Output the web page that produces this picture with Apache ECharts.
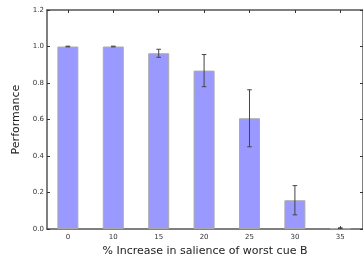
<!DOCTYPE html>
<html><head><meta charset="utf-8">
<script src="https://cdn.jsdelivr.net/npm/echarts@6/dist/echarts.min.js"></script>
<style>html,body{margin:0;padding:0;background:#fff;overflow:hidden}#c{width:363px;height:262px}</style>
</head><body><div id="c"></div>
<script>
var categories = ['0','10','15','20','25','30','35'];
var performance = [1.0, 1.0, 0.963, 0.868, 0.607, 0.158, 0.005];
var errors = [0.002, 0.002, 0.022, 0.088, 0.156, 0.08, 0.002];

var idx = categories.map(function(_, i){ return i; });
var barData = performance.map(function(v, i){ return [i, v]; });
var errData = performance.map(function(v, i){ return [i, v - errors[i], v + errors[i]]; });

var chart = echarts.init(document.getElementById('c'), null, {renderer:'canvas', width:363, height:262});
var lineStyle = {color:'#555', width:1.5};
chart.setOption({
  animation:false,
  grid:{left:47, top:10, right:0, bottom:27, containLabel:false},
  xAxis:[{
    type:'value', min:-0.46, max:6.5, position:'bottom',
    axisLine:{show:true, onZero:false, lineStyle:lineStyle},
    axisTick:{show:true, inside:true, length:3, customValues:idx, lineStyle:{color:'#333'}},
    axisLabel:{customValues:idx, formatter:function(v){ return categories[Math.round(v)]; }, fontSize:7, color:'#333', margin:5, fontFamily:'DejaVu Sans'},
    splitLine:{show:false},
    name:'% Increase in salience of worst cue B', nameLocation:'middle', nameGap:16,
    nameTextStyle:{fontSize:11, color:'#222', fontFamily:'DejaVu Sans'}
  },{
    type:'value', min:-0.46, max:6.5, position:'top',
    axisLine:{show:true, onZero:false, lineStyle:lineStyle},
    axisTick:{show:true, inside:true, length:3, customValues:idx, lineStyle:{color:'#333'}},
    axisLabel:{show:false}, splitLine:{show:false}
  }],
  yAxis:[{
    type:'value', min:0, max:1.2, interval:0.2, position:'left',
    axisLine:{show:true, onZero:false, lineStyle:lineStyle},
    axisTick:{show:true, inside:true, length:3, lineStyle:{color:'#333'}},
    axisLabel:{formatter:function(v){ return v.toFixed(1); }, fontSize:7, color:'#333', margin:3, fontFamily:'DejaVu Sans'},
    splitLine:{show:false},
    name:'Performance', nameLocation:'middle', nameGap:24,
    nameTextStyle:{fontSize:11, color:'#222', fontFamily:'DejaVu Sans'}
  },{
    type:'value', min:0, max:1.2, interval:0.2, position:'right',
    axisLine:{show:true, onZero:false, lineStyle:lineStyle},
    axisTick:{show:true, inside:true, length:3, lineStyle:{color:'#333'}},
    axisLabel:{show:false}, splitLine:{show:false}
  }],
  series:[{
    type:'bar', xAxisIndex:0, yAxisIndex:0, data:barData, barWidth:21,
    itemStyle:{color:'#9999ff', borderColor:'#aaa', borderWidth:1}
  },{
    type:'custom', xAxisIndex:0, yAxisIndex:0, data:errData, z:5,
    renderItem:function(params, api){
      var x = api.value(0);
      var lo = api.coord([x, api.value(1)]);
      var hi = api.coord([x, api.value(2)]);
      var c = 2.3;
      var st = {stroke:'#444', lineWidth:1};
      return {type:'group', children:[
        {type:'line', shape:{x1:lo[0], y1:lo[1], x2:hi[0], y2:hi[1]}, style:st},
        {type:'line', shape:{x1:lo[0]-c, y1:lo[1], x2:lo[0]+c, y2:lo[1]}, style:st},
        {type:'line', shape:{x1:hi[0]-c, y1:hi[1], x2:hi[0]+c, y2:hi[1]}, style:st}
      ]};
    }
  }]
});
</script></body></html>
